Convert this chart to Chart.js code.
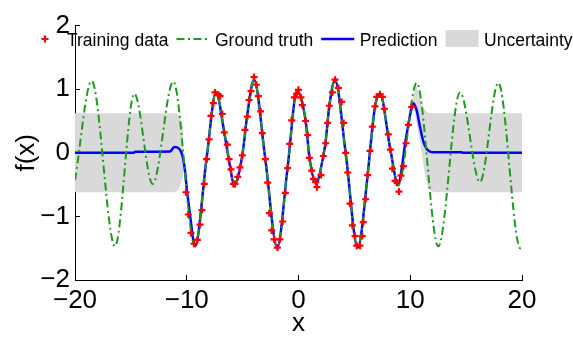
<!DOCTYPE html>
<html>
<head>
<meta charset="utf-8">
<script src="https://cdn.jsdelivr.net/npm/chart.js@4.4.0/dist/chart.umd.min.js"></script>
<style>
  html, body { margin: 0; padding: 0; background: #fff; }
  #wrap { width: 573px; height: 338px; }
</style>
</head>
<body>
<div id="wrap"><canvas id="chart" width="573" height="338"></canvas></div>
<script>
// Training data (red crosses)
const trainX = [-10.07, -9.86, -9.62, -9.35, -9.05, -8.81, -8.64, -8.43, -8.22, -8.01,
  -7.83, -7.62, -7.47, -7.17, -7.02, -6.82, -6.64, -6.37, -6.22, -6.04,
  -5.83, -5.68, -5.44, -5.24, -5.03, -4.79, -4.58, -4.43, -4.25, -3.98,
  -3.77, -3.59, -3.39, -3.24, -2.97, -2.76, -2.61, -2.40, -2.19, -1.89,
  -1.66, -1.42, -1.18, -0.97, -0.79, -0.61, -0.37, -0.16, -0.01,
  0.22, 0.34, 0.64, 0.82, 0.97, 1.18, 1.33, 1.55, 1.65, 2.01,
  2.22, 2.43, 2.61, 2.76, 3.03, 3.27, 3.57, 3.86, 4.04, 4.22,
  4.40, 4.61, 4.82, 5.06, 5.21, 5.50, 5.71, 5.80, 6.01, 6.19,
  6.40, 6.61, 6.85, 7.00, 7.29, 7.50, 7.68, 8.04, 8.22, 8.40,
  8.64, 8.81, 8.99, 9.17, 9.38, 9.62, 9.83, 10.13];
const trainY = [-0.62, -0.97, -1.26, -1.43, -1.37, -1.13, -0.90, -0.49, -0.10, 0.21,
  0.58, 0.78, 0.95, 0.91, 0.89, 0.61, 0.32, 0.13, -0.10, -0.26,
  -0.49, -0.49, -0.38, -0.23, -0.04, 0.36, 0.57, 0.83, 0.97, 1.19,
  1.07, 0.89, 0.65, 0.31, -0.10, -0.47, -0.95, -1.22, -1.36, -1.49,
  -1.36, -1.08, -0.63, -0.24, 0.14, 0.51, 0.87, 0.93, 0.99,
  0.87, 0.75, 0.50, 0.28, -0.08, -0.28, -0.41, -0.46, -0.54, -0.35,
  -0.05, 0.15, 0.47, 0.74, 0.95, 1.15, 1.02, 0.80, 0.47, 0.00,
  -0.31, -0.80, -1.14, -1.31, -1.46, -1.46, -1.31, -1.09, -0.73, -0.35,
  0.03, 0.41, 0.73, 0.88, 0.92, 0.88, 0.69, 0.29, 0.05, -0.25,
  -0.44, -0.47, -0.61, -0.36, -0.21, 0.15, 0.44, 0.72];

// Ground truth (green dash-dot)
const truthX = [-20, -18.51, -16.42, -14.69, -13.05, -11.20, -9.26, -8.22, -7.38, -6.64,
  -6.22, -5.74, -5.03, -4.58, -3.98, -2.97, -1.90, -0.97, -0.13, 0.64,
  0.97, 1.57, 2.22, 2.43, 2.76, 3.27, 4.22, 5.30, 6.19, 6.40,
  6.85, 7.29, 8.22, 8.93, 10.58, 12.51, 14.45, 16.24, 17.88, 19.85, 20];
const truthY = [-0.43, 1.13, -1.47, 0.93, -0.49, 1.12, -1.47, -0.08, 0.95, 0.32,
  -0.12, -0.50, -0.04, 0.60, 1.15, -0.10, -1.49, -0.22, 0.97, 0.50,
  -0.06, -0.48, -0.05, 0.18, 0.74, 1.14, 0.00, -1.49, -0.35, 0.03,
  0.73, 0.93, 0.05, -0.51, 1.10, -1.47, 0.95, -0.46, 1.10, -1.50, -1.49];

// Prediction (blue)
const predX = [-20, -14.72, -14.62, -11.5, -11.11, -10.47, -10.17, -10.0, -9.71, -9.41,
  -9.26, -8.22, -7.38, -6.64, -6.22, -5.74, -5.03, -4.58, -3.98, -2.97,
  -1.90, -0.97, -0.13, 0.64, 0.97, 1.57, 2.22, 2.43, 2.76, 3.27,
  4.22, 5.30, 6.19, 6.40, 6.85, 7.29, 8.22, 8.93, 9.23, 9.53,
  9.83, 10.13, 10.27, 10.57, 10.87, 11.17, 11.47, 11.77, 12.1, 14.6,
  14.7, 20];
const predY = [0, 0, 0.015, 0.02, 0.09, 0, -0.26, -0.56, -0.97, -1.38,
  -1.47, -0.08, 0.95, 0.32, -0.12, -0.50, -0.04, 0.60, 1.15, -0.10,
  -1.49, -0.22, 0.97, 0.50, -0.06, -0.48, -0.05, 0.18, 0.74, 1.14,
  0.00, -1.49, -0.35, 0.03, 0.73, 0.93, 0.05, -0.51, -0.26, 0.13,
  0.44, 0.72, 0.78, 0.67, 0.41, 0.18, 0.06, 0.02, 0.01, 0.01,
  0, 0];

// Uncertainty band, left and right of the training data
const bandLeftX = [-20, -11.15, -10.9, -10.76, -10.6, -10.45, -10.36, -10.3, -10.2, -10.1, -10.0];
const bandLeftUpper = [0.62, 0.62, 0.62, 0.60, 0.55, 0.47, 0.42, -0.08, -0.20, -0.36, -0.54];
const bandLeftLower = [-0.62, -0.62, -0.60, -0.58, -0.52, -0.43, -0.36, -0.30, -0.29, -0.41, -0.58];
const bandRightX = [10.0, 10.13, 10.27, 10.43, 10.6, 10.87, 11.1, 11.32, 11.6, 11.77, 12.0, 12.2, 20];
const bandRightUpper = [0.62, 0.74, 0.88, 1.05, 1.03, 0.87, 0.75, 0.67, 0.63, 0.62, 0.62, 0.62, 0.62];
const bandRightLower = [0.57, 0.70, 0.74, 0.62, 0.42, 0.18, -0.08, -0.35, -0.56, -0.59, -0.61, -0.62, -0.62];

const xTicks = [-20, -10, 0, 10, 20];
const yTicks = [-2, -1, 0, 1, 2];

const FONT = "'Liberation Sans', Arial, Helvetica, sans-serif";
const GREEN = '#1e9b1e';
const BLUE = '#0000ff';
const RED = '#ff0000';
const GRAY = '#d9d9d9';

function toPoints(xs, ys) {
    return xs.map((x, i) => ({ x: x, y: ys[i] }));
}

const minusSign = v => String(v).replace('-', '\u2212');

// MATLAB style legend sitting inside the plot, no box
const insideLegend = {
    id: 'insideLegend',
    afterDraw(chart) {
        const ctx = chart.ctx;
        const sets = chart.data.datasets.slice(0, 4);
        const yMid = 39, yBase = 46;
        let x = 28.5;
        ctx.save();
        ctx.font = '17.5px ' + FONT;
        sets.forEach((ds, i) => {
            const cx = x + 16.5;
            if (i === 0) {
                ctx.strokeStyle = RED;
                ctx.lineWidth = 2.2;
                ctx.beginPath();
                ctx.moveTo(cx - 3.5, yMid); ctx.lineTo(cx + 3.5, yMid);
                ctx.moveTo(cx, yMid - 3.5); ctx.lineTo(cx, yMid + 3.5);
                ctx.stroke();
            } else if (i === 3) {
                ctx.fillStyle = GRAY;
                ctx.fillRect(x, 30, 33, 17);
            } else {
                ctx.strokeStyle = ds.borderColor;
                ctx.lineWidth = ds.borderWidth;
                ctx.setLineDash(ds.borderDash || []);
                ctx.beginPath();
                ctx.moveTo(x, yMid); ctx.lineTo(x + 33, yMid);
                ctx.stroke();
                ctx.setLineDash([]);
            }
            ctx.fillStyle = '#000';
            ctx.textBaseline = 'alphabetic';
            ctx.fillText(ds.label, x + 38.5, yBase);
            x = x + 38.5 + ctx.measureText(ds.label).width + 8;
        });
        ctx.restore();
    }
};

const ctx = document.getElementById('chart').getContext('2d');
const chart = new Chart(ctx, {
    type: 'line',
    data: {
        datasets: [
            {
                label: 'Training data',
                data: toPoints(trainX, trainY),
                showLine: false,
                pointStyle: 'cross',
                pointRadius: 3.5,
                pointBorderWidth: 2.2,
                pointBorderColor: RED,
                pointBackgroundColor: RED
            },
            {
                label: 'Ground truth',
                data: toPoints(truthX, truthY),
                borderColor: GREEN,
                borderWidth: 2,
                borderDash: [8, 3.5, 2, 3.5],
                pointRadius: 0,
                cubicInterpolationMode: 'monotone'
            },
            {
                label: 'Prediction',
                data: toPoints(predX, predY),
                borderColor: BLUE,
                borderWidth: 2.5,
                pointRadius: 0,
                cubicInterpolationMode: 'monotone'
            },
            {
                label: 'Uncertainty',
                data: toPoints(bandLeftX, bandLeftUpper),
                borderWidth: 0,
                borderColor: 'rgba(0,0,0,0)',
                backgroundColor: GRAY,
                pointRadius: 0,
                fill: '+1'
            },
            {
                label: 'band-left-lower',
                data: toPoints(bandLeftX, bandLeftLower),
                borderWidth: 0,
                borderColor: 'rgba(0,0,0,0)',
                pointRadius: 0,
                fill: false
            },
            {
                label: 'band-right-upper',
                data: toPoints(bandRightX, bandRightUpper),
                borderWidth: 0,
                borderColor: 'rgba(0,0,0,0)',
                backgroundColor: GRAY,
                pointRadius: 0,
                fill: '+1'
            },
            {
                label: 'band-right-lower',
                data: toPoints(bandRightX, bandRightLower),
                borderWidth: 0,
                borderColor: 'rgba(0,0,0,0)',
                pointRadius: 0,
                fill: false
            }
        ]
    },
    options: {
        responsive: false,
        animation: false,
        devicePixelRatio: 1,
        layout: { padding: { top: 20, right: 51, left: 0, bottom: 0 } },
        plugins: {
            legend: { display: false },
            tooltip: { enabled: false }
        },
        scales: {
            x: {
                type: 'linear',
                min: -20,
                max: 20,
                afterFit: scale => { scale.height = 58; },
                afterBuildTicks: scale => { scale.ticks = xTicks.map(v => ({ value: v })); },
                border: { display: true, color: '#000', width: 1 },
                grid: { drawOnChartArea: false, drawTicks: true, tickLength: -5, color: '#000', tickColor: '#000' },
                ticks: {
                    color: '#000',
                    padding: 10,
                    maxRotation: 0,
                    autoSkip: false,
                    font: { family: FONT, size: 26 },
                    callback: v => minusSign(v)
                },
                title: {
                    display: true,
                    text: 'x',
                    color: '#000',
                    font: { family: FONT, size: 26, lineHeight: 1 },
                    padding: { top: 0, bottom: 1 }
                }
            },
            y: {
                type: 'linear',
                min: -2,
                max: 2,
                afterFit: scale => { scale.width = 75; },
                afterBuildTicks: scale => { scale.ticks = yTicks.map(v => ({ value: v })); },
                border: { display: true, color: '#000', width: 1 },
                grid: { drawOnChartArea: false, drawTicks: true, tickLength: -5, color: '#000', tickColor: '#000' },
                ticks: {
                    color: '#000',
                    padding: 10,
                    autoSkip: false,
                    font: { family: FONT, size: 26 },
                    callback: v => minusSign(v)
                },
                title: {
                    display: true,
                    text: 'f(x)',
                    color: '#000',
                    font: { family: FONT, size: 26, lineHeight: 1 },
                    padding: { top: 14, bottom: 0 }
                }
            }
        }
    },
    plugins: [insideLegend]
});
</script>
</body>
</html>
